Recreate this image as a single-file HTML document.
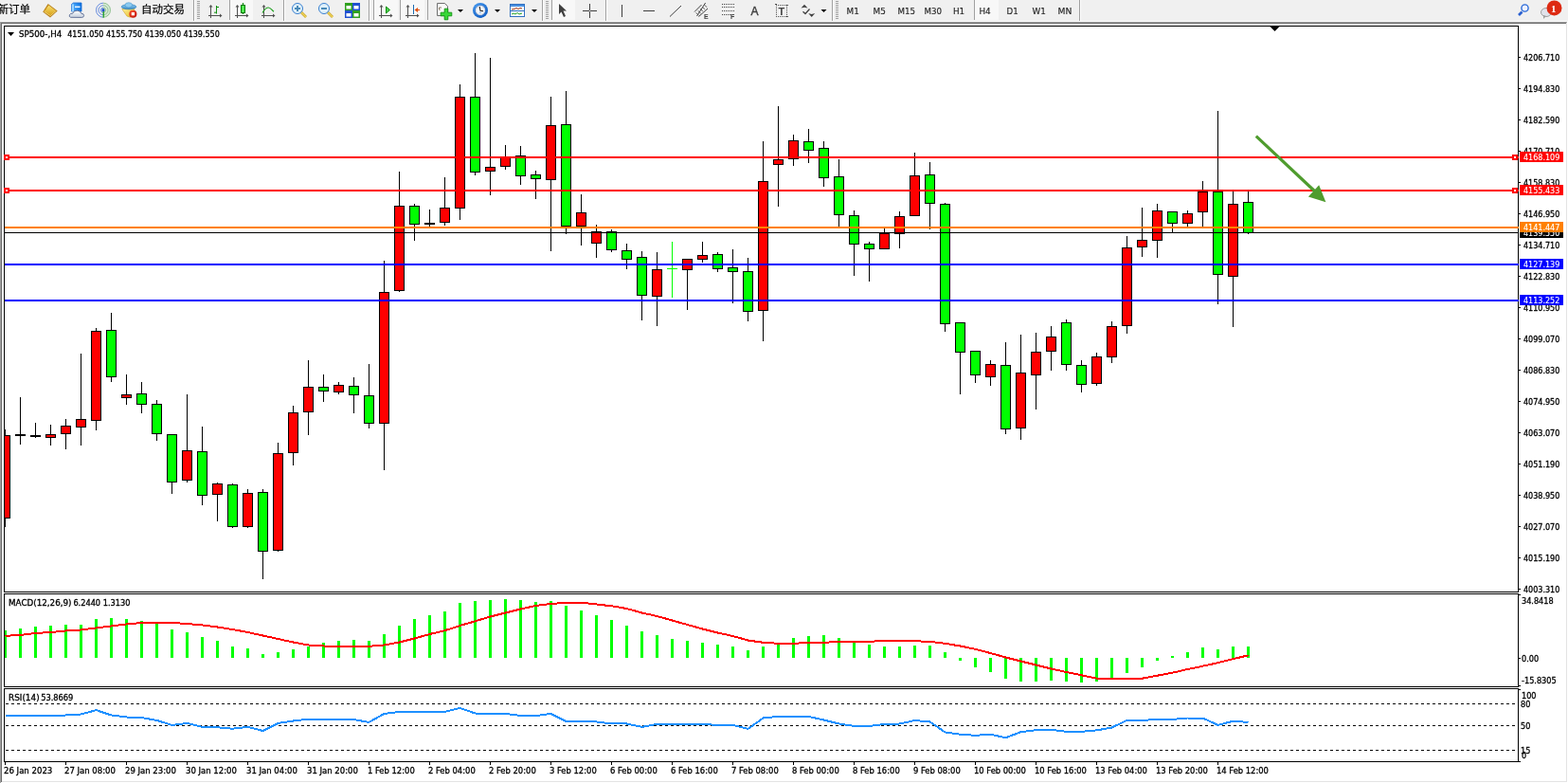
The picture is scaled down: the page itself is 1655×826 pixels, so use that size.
<!DOCTYPE html>
<html><head><meta charset="utf-8"><title>SP500-,H4</title>
<style>
html,body{margin:0;padding:0;width:1655px;height:826px;overflow:hidden;background:#f0f0f0;}
svg{position:absolute;left:0;top:0;display:block;}
.t{font-family:"DejaVu Sans Condensed","DejaVu Sans",sans-serif;font-size:9.5px;fill:#000;white-space:pre;stroke:#000;stroke-width:0.3px;}
.cjk{font-family:"Liberation Sans","Noto Sans CJK SC","WenQuanYi Zen Hei",sans-serif;font-size:11.5px;fill:#000;stroke:#000;stroke-width:0.2px;}
.tf{font-family:"DejaVu Sans Condensed","DejaVu Sans",sans-serif;font-size:9.5px;fill:#262626;stroke:#262626;stroke-width:0.15px;}
.tbs{font-family:"Liberation Sans",sans-serif;font-size:7px;font-weight:bold;fill:#404040;}
.tbA{font-family:"Liberation Sans",sans-serif;font-size:12px;fill:#404040;stroke:#404040;stroke-width:0.4px;}
.tbT{font-family:"Liberation Sans",sans-serif;font-size:11px;font-weight:bold;fill:#404040;}
.badge{font-family:"Liberation Serif",serif;font-size:11px;font-weight:bold;fill:#fff;}
</style></head>
<body>
<svg width="1655" height="826" viewBox="0 0 1655 826">
<rect x="0" y="0" width="1655" height="22" fill="#f0f0f0"/>
<rect x="0" y="22" width="1655" height="1" fill="#fafafa"/>
<text x="-2.5" y="14" class="cjk">新订单</text>
<defs><linearGradient id="gBook" x1="0" y1="0" x2="0" y2="1"><stop offset="0" stop-color="#f8e070"/><stop offset="1" stop-color="#d8a018"/></linearGradient><linearGradient id="gBox" x1="0" y1="0" x2="1" y2="0"><stop offset="0" stop-color="#50b0ff"/><stop offset="1" stop-color="#0a70e0"/></linearGradient><linearGradient id="gCloud" x1="0" y1="0" x2="0" y2="1"><stop offset="0" stop-color="#ffffff"/><stop offset="1" stop-color="#c4cedc"/></linearGradient><linearGradient id="gHat" x1="0" y1="0" x2="0" y2="1"><stop offset="0" stop-color="#8ccaf0"/><stop offset="1" stop-color="#3a8cc8"/></linearGradient><linearGradient id="gCup" x1="0" y1="0" x2="1" y2="1"><stop offset="0" stop-color="#fff4a0"/><stop offset="1" stop-color="#e8b820"/></linearGradient><radialGradient id="gStop" cx="0.4" cy="0.35" r="0.7"><stop offset="0" stop-color="#ff5a3a"/><stop offset="1" stop-color="#c01000"/></radialGradient><radialGradient id="gClock" cx="0.4" cy="0.35" r="0.7"><stop offset="0" stop-color="#5ab0ff"/><stop offset="1" stop-color="#0a58c0"/></radialGradient><radialGradient id="gBadge" cx="0.45" cy="0.3" r="0.75"><stop offset="0" stop-color="#f05a3a"/><stop offset="1" stop-color="#d01a08"/></radialGradient></defs>
<polygon points="45.2,12.4 50.7,4.1 60.7,11.6 53,18.6" fill="#b8801c"/>
<polygon points="46.6,12 51.2,5.4 59,11.2 53.2,16.4" fill="url(#gBook)"/>
<polyline points="46.6,12.2 53.2,16.6 59.2,11.4" fill="none" stroke="#f4d878" stroke-width="0.8"/>
<path d="M51.2,5.4 Q49,7.5 47.5,11" fill="none" stroke="#c89020" stroke-width="0.8"/>
<path d="M75.5,4.5 L77.5,3 H86 V12 H75.5 Z" fill="url(#gBox)" stroke="#1a6ad0" stroke-width="0.8"/>
<rect x="75.8" y="4.5" width="2.2" height="7.5" fill="#9ad4ff"/>
<rect x="79" y="6.5" width="5.5" height="1.6" fill="#e8f4ff"/>
<path d="M74.5,18.3 Q72.6,17.8 73.4,15.6 Q74.5,13.8 76.6,14.3 Q77.5,11 81.5,11.2 Q85.5,11.5 85.8,14.3 Q88.6,14.2 88.6,16.4 Q88.4,18.4 86.4,18.4 Z" fill="url(#gCloud)" stroke="#5a6a92" stroke-width="0.9"/>
<path d="M109,2.8 A7.9,7.9 0 0 1 109,18.6 Z" fill="#cfe8cf" opacity="0.75"/>
<path d="M109,3.20 A7.5,7.5 0 0 0 109,18.20" fill="none" stroke="#3a6ad8" stroke-width="0.9" opacity="0.85"/>
<path d="M109,3.20 A7.5,7.5 0 0 1 109,18.20" fill="none" stroke="#5aa05a" stroke-width="0.9" opacity="0.6"/>
<path d="M109,5.70 A5.0,5.0 0 0 0 109,15.70" fill="none" stroke="#3a6ad8" stroke-width="0.9" opacity="0.85"/>
<path d="M109,5.70 A5.0,5.0 0 0 1 109,15.70" fill="none" stroke="#5aa05a" stroke-width="0.9" opacity="0.6"/>
<path d="M109,8.10 A2.6,2.6 0 0 0 109,13.30" fill="none" stroke="#3a6ad8" stroke-width="0.9" opacity="0.85"/>
<path d="M109,8.10 A2.6,2.6 0 0 1 109,13.30" fill="none" stroke="#5aa05a" stroke-width="0.9" opacity="0.6"/>
<rect x="108.6" y="11" width="1.3" height="7.6" fill="#20a020"/>
<circle cx="109" cy="10.7" r="1.6" fill="#1f50c8"/>
<polygon points="128.8,9.5 141.8,9 141.5,14 137.5,18.3 134,17" fill="url(#gCup)" stroke="#d0a020" stroke-width="0.6"/>
<ellipse cx="136" cy="7.2" rx="7.8" ry="2.6" fill="url(#gHat)" stroke="#2a7ab8" stroke-width="0.6"/>
<ellipse cx="135.8" cy="5.3" rx="3.8" ry="2.6" fill="#8ccaf0" stroke="#3a8cc8" stroke-width="0.5"/>
<circle cx="140.4" cy="14.7" r="4" fill="url(#gStop)"/>
<rect x="138.8" y="13.1" width="3.2" height="3.2" fill="#fff"/>
<text x="149" y="14" class="cjk">自动交易</text>
<rect x="204" y="0" width="1" height="22" fill="#a0a0a0"/>
<rect x="205" y="0" width="1" height="22" fill="#ffffff"/>
<rect x="208" y="1" width="3" height="1" fill="#a0a0a0"/>
<rect x="208" y="3" width="3" height="1" fill="#a0a0a0"/>
<rect x="208" y="5" width="3" height="1" fill="#a0a0a0"/>
<rect x="208" y="7" width="3" height="1" fill="#a0a0a0"/>
<rect x="208" y="9" width="3" height="1" fill="#a0a0a0"/>
<rect x="208" y="11" width="3" height="1" fill="#a0a0a0"/>
<rect x="208" y="13" width="3" height="1" fill="#a0a0a0"/>
<rect x="208" y="15" width="3" height="1" fill="#a0a0a0"/>
<rect x="208" y="17" width="3" height="1" fill="#a0a0a0"/>
<rect x="208" y="19" width="3" height="1" fill="#a0a0a0"/>
<rect x="222" y="6" width="1" height="13" fill="#505050"/>
<rect x="220" y="16" width="14" height="1" fill="#505050"/>
<polygon points="220.5,7.5 222.5,5 224.5,7.5" fill="#505050"/>
<polygon points="232,14.5 234.5,16.5 232,18.5" fill="#505050"/>
<path d="M228.5,6 V14.5 M228.5,7.5 H231 M228.5,13.2 H226" stroke="#109010" stroke-width="1" fill="none"/>
<rect x="242" y="0" width="1" height="21" fill="#a0a0a0"/>
<rect x="243" y="0" width="24" height="21" fill="#f8f8f8"/>
<rect x="250" y="6" width="1" height="13" fill="#505050"/>
<rect x="248" y="16" width="14" height="1" fill="#505050"/>
<polygon points="248.5,7.5 250.5,5 252.5,7.5" fill="#505050"/>
<polygon points="260,14.5 262.5,16.5 260,18.5" fill="#505050"/>
<rect x="256" y="3" width="1" height="12" fill="#008000"/>
<rect x="254.5" y="5.5" width="4" height="8" fill="#50e850" stroke="#007a00" stroke-width="1"/>
<rect x="278" y="6" width="1" height="13" fill="#505050"/>
<rect x="276" y="16" width="14" height="1" fill="#505050"/>
<polygon points="276.5,7.5 278.5,5 280.5,7.5" fill="#505050"/>
<polygon points="288,14.5 290.5,16.5 288,18.5" fill="#505050"/>
<path d="M277,13.5 C279,10 281.5,8 283.4,8 C285.5,8 287,10.8 289,12.3" stroke="#20a020" stroke-width="1.2" fill="none"/>
<rect x="299" y="0" width="1" height="22" fill="#a0a0a0"/>
<rect x="300" y="0" width="1" height="22" fill="#ffffff"/>
<line x1="317" y1="12" x2="323" y2="18" stroke="#c8a020" stroke-width="2.6"/>
<line x1="317" y1="12" x2="323" y2="18" stroke="#f0d860" stroke-width="1.2"/>
<circle cx="314" cy="9" r="5.5" fill="#dff0fa" stroke="#3a80d0" stroke-width="1"/>
<rect x="311" y="8" width="6" height="2" fill="#4a8ab8"/>
<rect x="313" y="6" width="2" height="6" fill="#4a8ab8"/>
<line x1="345" y1="12" x2="351" y2="18" stroke="#c8a020" stroke-width="2.6"/>
<line x1="345" y1="12" x2="351" y2="18" stroke="#f0d860" stroke-width="1.2"/>
<circle cx="342" cy="9" r="5.5" fill="#dff0fa" stroke="#3a80d0" stroke-width="1"/>
<rect x="339" y="8" width="6" height="2" fill="#4a8ab8"/>
<rect x="364" y="3" width="8" height="8" fill="#30a020"/>
<rect x="365.5" y="6" width="5" height="3.5" fill="#fff"/>
<rect x="372" y="3" width="8" height="8" fill="#2050d0"/>
<rect x="373.5" y="6" width="5" height="3.5" fill="#fff"/>
<rect x="364" y="11" width="8" height="8" fill="#2050d0"/>
<rect x="365.5" y="14" width="5" height="3.5" fill="#fff"/>
<rect x="372" y="11" width="8" height="8" fill="#30a020"/>
<rect x="373.5" y="14" width="5" height="3.5" fill="#fff"/>
<rect x="389" y="0" width="1" height="22" fill="#a0a0a0"/>
<rect x="390" y="0" width="1" height="22" fill="#ffffff"/>
<rect x="394" y="0" width="1" height="21" fill="#a0a0a0"/>
<rect x="395" y="0" width="25" height="21" fill="#f8f8f8"/>
<rect x="402" y="6" width="1" height="13" fill="#505050"/>
<rect x="400" y="16" width="14" height="1" fill="#505050"/>
<polygon points="400.5,7.5 402.5,5 404.5,7.5" fill="#505050"/>
<polygon points="412,14.5 414.5,16.5 412,18.5" fill="#505050"/>
<polygon points="407.5,7 411.5,10.5 407.5,14" fill="#50d050" stroke="#109010" stroke-width="1"/>
<rect x="422" y="0" width="1" height="21" fill="#a0a0a0"/>
<rect x="423" y="0" width="25" height="21" fill="#f8f8f8"/>
<rect x="430" y="6" width="1" height="13" fill="#505050"/>
<rect x="428" y="16" width="14" height="1" fill="#505050"/>
<polygon points="428.5,7.5 430.5,5 432.5,7.5" fill="#505050"/>
<polygon points="440,14.5 442.5,16.5 440,18.5" fill="#505050"/>
<rect x="436" y="5" width="1" height="10" fill="#1a6ab0"/>
<polygon points="437.5,10.5 441,8 441,13" fill="#e05010"/>
<rect x="440" y="10" width="3" height="1" fill="#e05010"/>
<rect x="451" y="0" width="1" height="21" fill="#a0a0a0"/>
<path d="M461.5,3.5 H469.5 L472.5,6.5 V16.5 H461.5 Z" fill="#fafafa" stroke="#707070" stroke-width="1"/>
<path d="M463.5,8 Q463,10.5 464.5,11 M463.5,8 H466" stroke="#6a5a40" stroke-width="0.8" fill="none"/>
<path d="M469.2,9.2 H472.8 V13.2 H476.8 V16.8 H472.8 V20.8 H469.2 V16.8 H465.2 V13.2 H469.2 Z" fill="#38d838" stroke="#0c900c" stroke-width="0.9"/>
<polygon points="483,10 489,10 486,13" fill="#000"/>
<circle cx="507" cy="10.9" r="8" fill="url(#gClock)"/>
<circle cx="507" cy="10.9" r="5.4" fill="#f6f8fc" stroke="#0a4aa8" stroke-width="0.5"/>
<circle cx="511.30" cy="10.90" r="0.35" fill="#909090"/>
<circle cx="510.72" cy="13.05" r="0.35" fill="#909090"/>
<circle cx="509.15" cy="14.62" r="0.35" fill="#909090"/>
<circle cx="507.00" cy="15.20" r="0.35" fill="#909090"/>
<circle cx="504.85" cy="14.62" r="0.35" fill="#909090"/>
<circle cx="503.28" cy="13.05" r="0.35" fill="#909090"/>
<circle cx="502.70" cy="10.90" r="0.35" fill="#909090"/>
<circle cx="503.28" cy="8.75" r="0.35" fill="#909090"/>
<circle cx="504.85" cy="7.18" r="0.35" fill="#909090"/>
<circle cx="507.00" cy="6.60" r="0.35" fill="#909090"/>
<circle cx="509.15" cy="7.18" r="0.35" fill="#909090"/>
<circle cx="510.72" cy="8.75" r="0.35" fill="#909090"/>
<path d="M506.2,7 L507,11.2 L510,11.8" stroke="#202020" stroke-width="1.1" fill="none"/>
<rect x="505.8" y="12.8" width="2.4" height="0.8" fill="#6aa0e0"/>
<polygon points="522,10 528,10 525,13" fill="#000"/>
<rect x="538.5" y="4.5" width="15" height="13" fill="#ffffff" stroke="#3070c0" stroke-width="1"/>
<rect x="539" y="5" width="14" height="2" fill="#4a90e0"/>
<rect x="539" y="11" width="14" height="1" fill="#3070c0"/>
<polyline points="540,10 543,9.5 545,8.5 547,9.5 549,8.5 551,9" stroke="#a03010" stroke-width="1" fill="none"/>
<polyline points="540,15 542,14 544,15 546,13.5 548,15 551,14" stroke="#20a020" stroke-width="1" fill="none"/>
<polygon points="561,10 567,10 564,13" fill="#000"/>
<rect x="572" y="0" width="1" height="22" fill="#a0a0a0"/>
<rect x="573" y="0" width="1" height="22" fill="#ffffff"/>
<rect x="576" y="1" width="3" height="1" fill="#a0a0a0"/>
<rect x="576" y="3" width="3" height="1" fill="#a0a0a0"/>
<rect x="576" y="5" width="3" height="1" fill="#a0a0a0"/>
<rect x="576" y="7" width="3" height="1" fill="#a0a0a0"/>
<rect x="576" y="9" width="3" height="1" fill="#a0a0a0"/>
<rect x="576" y="11" width="3" height="1" fill="#a0a0a0"/>
<rect x="576" y="13" width="3" height="1" fill="#a0a0a0"/>
<rect x="576" y="15" width="3" height="1" fill="#a0a0a0"/>
<rect x="576" y="17" width="3" height="1" fill="#a0a0a0"/>
<rect x="576" y="19" width="3" height="1" fill="#a0a0a0"/>
<rect x="582" y="0" width="1" height="21" fill="#a0a0a0"/>
<rect x="583" y="0" width="24" height="21" fill="#f8f8f8"/>
<polygon points="590,4 590,15 592.5,12.5 595,18 597,17 594.5,11.5 598,11.5" fill="#404040"/>
<rect x="622" y="4" width="1" height="15" fill="#404040"/>
<rect x="615" y="11" width="15" height="1" fill="#404040"/>
<rect x="622" y="11" width="1" height="1" fill="#f0f0f0"/>
<rect x="639" y="0" width="1" height="22" fill="#a0a0a0"/>
<rect x="640" y="0" width="1" height="22" fill="#ffffff"/>
<rect x="656" y="5" width="1" height="13" fill="#404040"/>
<rect x="679" y="11" width="12" height="1" fill="#404040"/>
<line x1="707" y1="17.5" x2="719" y2="6" stroke="#404040" stroke-width="1"/>
<line x1="733" y1="12.5" x2="740.5" y2="5" stroke="#404040" stroke-width="1"/>
<line x1="737.5" y1="17.5" x2="747" y2="9" stroke="#404040" stroke-width="1"/>
<line x1="735.5" y1="17" x2="744.6" y2="3" stroke="#404040" stroke-width="1"/>
<line x1="734.5" y1="13.5" x2="737.5" y2="16.1" stroke="#404040" stroke-width="0.8"/>
<line x1="736.7" y1="11.4" x2="739.7" y2="14.0" stroke="#404040" stroke-width="0.8"/>
<line x1="738.9" y1="9.3" x2="741.9" y2="11.9" stroke="#404040" stroke-width="0.8"/>
<line x1="741.1" y1="7.2" x2="744.1" y2="9.8" stroke="#404040" stroke-width="0.8"/>
<line x1="743.3" y1="5.1" x2="746.3" y2="7.7" stroke="#404040" stroke-width="0.8"/>
<text x="743" y="20" class="tbs">E</text>
<line x1="762" y1="4.5" x2="775" y2="4.5" stroke="#404040" stroke-width="1" stroke-dasharray="1 1"/>
<line x1="762" y1="7.5" x2="775" y2="7.5" stroke="#404040" stroke-width="1" stroke-dasharray="1 1"/>
<line x1="762" y1="11.5" x2="775" y2="11.5" stroke="#404040" stroke-width="1" stroke-dasharray="1 1"/>
<line x1="762" y1="15.5" x2="775" y2="15.5" stroke="#404040" stroke-width="1" stroke-dasharray="1 1"/>
<text x="771" y="20" class="tbs">F</text>
<text x="792.5" y="16" class="tbA">A</text>
<rect x="819" y="5" width="1" height="1" fill="#505050"/>
<rect x="819" y="17" width="1" height="1" fill="#505050"/>
<rect x="821" y="5" width="1" height="1" fill="#505050"/>
<rect x="821" y="17" width="1" height="1" fill="#505050"/>
<rect x="823" y="5" width="1" height="1" fill="#505050"/>
<rect x="823" y="17" width="1" height="1" fill="#505050"/>
<rect x="825" y="5" width="1" height="1" fill="#505050"/>
<rect x="825" y="17" width="1" height="1" fill="#505050"/>
<rect x="827" y="5" width="1" height="1" fill="#505050"/>
<rect x="827" y="17" width="1" height="1" fill="#505050"/>
<rect x="829" y="5" width="1" height="1" fill="#505050"/>
<rect x="829" y="17" width="1" height="1" fill="#505050"/>
<rect x="831" y="5" width="1" height="1" fill="#505050"/>
<rect x="831" y="17" width="1" height="1" fill="#505050"/>
<rect x="819" y="5" width="1" height="1" fill="#505050"/>
<rect x="830" y="5" width="1" height="1" fill="#505050"/>
<rect x="819" y="7" width="1" height="1" fill="#505050"/>
<rect x="830" y="7" width="1" height="1" fill="#505050"/>
<rect x="819" y="9" width="1" height="1" fill="#505050"/>
<rect x="830" y="9" width="1" height="1" fill="#505050"/>
<rect x="819" y="11" width="1" height="1" fill="#505050"/>
<rect x="830" y="11" width="1" height="1" fill="#505050"/>
<rect x="819" y="13" width="1" height="1" fill="#505050"/>
<rect x="830" y="13" width="1" height="1" fill="#505050"/>
<rect x="819" y="15" width="1" height="1" fill="#505050"/>
<rect x="830" y="15" width="1" height="1" fill="#505050"/>
<rect x="819" y="17" width="1" height="1" fill="#505050"/>
<rect x="830" y="17" width="1" height="1" fill="#505050"/>
<rect x="818" y="4" width="2" height="1" fill="#505050"/>
<text x="821.5" y="15.5" class="tbT">T</text>
<polygon points="845.5,8.6 849,4.8 852.5,8.6 849,7.8" fill="#404040"/>
<polyline points="847.5,12.2 850,14.5 854.5,9.5" stroke="#404040" stroke-width="1.3" fill="none"/>
<polygon points="853.2,14 856.7,15 860.2,14 856.7,18" fill="#404040"/>
<polygon points="866.5,10 872.5,10 869.5,13" fill="#000"/>
<rect x="878" y="0" width="1" height="22" fill="#a0a0a0"/>
<rect x="879" y="0" width="1" height="22" fill="#ffffff"/>
<rect x="882" y="1" width="3" height="1" fill="#a0a0a0"/>
<rect x="882" y="3" width="3" height="1" fill="#a0a0a0"/>
<rect x="882" y="5" width="3" height="1" fill="#a0a0a0"/>
<rect x="882" y="7" width="3" height="1" fill="#a0a0a0"/>
<rect x="882" y="9" width="3" height="1" fill="#a0a0a0"/>
<rect x="882" y="11" width="3" height="1" fill="#a0a0a0"/>
<rect x="882" y="13" width="3" height="1" fill="#a0a0a0"/>
<rect x="882" y="15" width="3" height="1" fill="#a0a0a0"/>
<rect x="882" y="17" width="3" height="1" fill="#a0a0a0"/>
<rect x="882" y="19" width="3" height="1" fill="#a0a0a0"/>
<rect x="1028" y="0" width="1" height="21" fill="#a0a0a0"/>
<rect x="1029" y="0" width="25" height="21" fill="#f8f8f8"/>
<text x="893.5" y="15" class="tf" textLength="13.27" lengthAdjust="spacingAndGlyphs">M1</text>
<text x="921.5" y="15" class="tf" textLength="13.27" lengthAdjust="spacingAndGlyphs">M5</text>
<text x="947.5" y="15" class="tf" textLength="18.58" lengthAdjust="spacingAndGlyphs">M15</text>
<text x="975.5" y="15" class="tf" textLength="18.58" lengthAdjust="spacingAndGlyphs">M30</text>
<text x="1006" y="15" class="tf" textLength="12.21" lengthAdjust="spacingAndGlyphs">H1</text>
<text x="1033.5" y="15" class="tf" textLength="12.21" lengthAdjust="spacingAndGlyphs">H4</text>
<text x="1062.5" y="15" class="tf" textLength="12.21" lengthAdjust="spacingAndGlyphs">D1</text>
<text x="1089.5" y="15" class="tf" textLength="14.32" lengthAdjust="spacingAndGlyphs">W1</text>
<text x="1116.5" y="15" class="tf" textLength="14.85" lengthAdjust="spacingAndGlyphs">MN</text>
<rect x="1139" y="0" width="1" height="22" fill="#a0a0a0"/>
<rect x="1140" y="0" width="1" height="22" fill="#ffffff"/>
<line x1="1603" y1="16" x2="1606.5" y2="12.5" stroke="#2a60d0" stroke-width="2.6"/>
<circle cx="1609.5" cy="8.5" r="3.6" fill="#eef2ff" stroke="#2a6ad8" stroke-width="1.4"/>
<ellipse cx="1632" cy="13" rx="5.5" ry="4.5" fill="#e0e2ea" stroke="#a0a0a0" stroke-width="1"/>
<polygon points="1629,16 1629,20 1632,17" fill="#a0a0a0"/>
<circle cx="1640.5" cy="8.4" r="8" fill="#dd2a12"/>
<text x="1637" y="12.5" class="badge">1</text>
<rect x="0" y="23" width="1655" height="1" fill="#a0a0a0"/>
<rect x="0" y="24" width="1655" height="1" fill="#696969"/>
<rect x="0" y="23" width="1" height="803" fill="#a0a0a0"/>
<rect x="1" y="24" width="1" height="801" fill="#696969"/>
<rect x="2" y="25" width="1651" height="799" fill="#ffffff"/>
<rect x="1653" y="24" width="1" height="801" fill="#e3e3e3"/>
<rect x="2" y="824" width="1652" height="1" fill="#e3e3e3"/>
<rect x="1654" y="23" width="1" height="803" fill="#ffffff"/>
<rect x="1" y="825" width="1654" height="1" fill="#ffffff"/>
<rect x="4" y="27" width="1599" height="1" fill="#000"/>
<rect x="4" y="624" width="1599" height="1" fill="#000"/>
<rect x="4" y="27" width="1" height="598" fill="#000"/>
<rect x="1602" y="27" width="1" height="598" fill="#000"/>
<rect x="4" y="626" width="1599" height="1" fill="#000"/>
<rect x="4" y="724" width="1599" height="1" fill="#000"/>
<rect x="4" y="626" width="1" height="99" fill="#000"/>
<rect x="1602" y="626" width="1" height="99" fill="#000"/>
<rect x="4" y="726" width="1599" height="1" fill="#000"/>
<rect x="4" y="803" width="1599" height="1" fill="#000"/>
<rect x="4" y="726" width="1" height="78" fill="#000"/>
<rect x="1602" y="726" width="1" height="78" fill="#000"/>
<defs><clipPath id="cm"><rect x="5" y="28" width="1597" height="596"/></clipPath><clipPath id="cmacd"><rect x="5" y="627" width="1597" height="97"/></clipPath><clipPath id="crsi"><rect x="5" y="727" width="1597" height="76"/></clipPath></defs>
<g clip-path="url(#cm)" shape-rendering="crispEdges">
<rect x="5" y="453" width="1" height="103" fill="#000"/>
<rect x="0" y="459" width="11" height="88" fill="#000"/>
<rect x="1" y="460" width="9" height="86" fill="#ff0000"/>
<rect x="21" y="419" width="1" height="50" fill="#000"/>
<rect x="16" y="458" width="11" height="2" fill="#000"/>
<rect x="37" y="446" width="1" height="16" fill="#000"/>
<rect x="32" y="459" width="11" height="2" fill="#000"/>
<rect x="53" y="448" width="1" height="22" fill="#000"/>
<rect x="48" y="458" width="11" height="4" fill="#000"/>
<rect x="49" y="459" width="9" height="2" fill="#ff0000"/>
<rect x="69" y="442" width="1" height="32" fill="#000"/>
<rect x="64" y="449" width="11" height="9" fill="#000"/>
<rect x="65" y="450" width="9" height="7" fill="#ff0000"/>
<rect x="85" y="373" width="1" height="97" fill="#000"/>
<rect x="80" y="442" width="11" height="9" fill="#000"/>
<rect x="81" y="443" width="9" height="7" fill="#ff0000"/>
<rect x="101" y="346" width="1" height="108" fill="#000"/>
<rect x="96" y="349" width="11" height="95" fill="#000"/>
<rect x="97" y="350" width="9" height="93" fill="#ff0000"/>
<rect x="117" y="330" width="1" height="73" fill="#000"/>
<rect x="112" y="348" width="11" height="50" fill="#000"/>
<rect x="113" y="349" width="9" height="48" fill="#00ff00"/>
<rect x="133" y="395" width="1" height="32" fill="#000"/>
<rect x="128" y="416" width="11" height="4" fill="#000"/>
<rect x="129" y="417" width="9" height="2" fill="#ff0000"/>
<rect x="149" y="403" width="1" height="33" fill="#000"/>
<rect x="144" y="415" width="11" height="12" fill="#000"/>
<rect x="145" y="416" width="9" height="10" fill="#00ff00"/>
<rect x="165" y="422" width="1" height="43" fill="#000"/>
<rect x="160" y="426" width="11" height="32" fill="#000"/>
<rect x="161" y="427" width="9" height="30" fill="#00ff00"/>
<rect x="181" y="458" width="1" height="63" fill="#000"/>
<rect x="176" y="458" width="11" height="51" fill="#000"/>
<rect x="177" y="459" width="9" height="49" fill="#00ff00"/>
<rect x="197" y="416" width="1" height="93" fill="#000"/>
<rect x="192" y="475" width="11" height="32" fill="#000"/>
<rect x="193" y="476" width="9" height="30" fill="#ff0000"/>
<rect x="213" y="450" width="1" height="83" fill="#000"/>
<rect x="208" y="476" width="11" height="47" fill="#000"/>
<rect x="209" y="477" width="9" height="45" fill="#00ff00"/>
<rect x="229" y="509" width="1" height="41" fill="#000"/>
<rect x="224" y="510" width="11" height="12" fill="#000"/>
<rect x="225" y="511" width="9" height="10" fill="#ff0000"/>
<rect x="245" y="510" width="1" height="47" fill="#000"/>
<rect x="240" y="511" width="11" height="45" fill="#000"/>
<rect x="241" y="512" width="9" height="43" fill="#00ff00"/>
<rect x="261" y="516" width="1" height="41" fill="#000"/>
<rect x="256" y="520" width="11" height="36" fill="#000"/>
<rect x="257" y="521" width="9" height="34" fill="#ff0000"/>
<rect x="277" y="516" width="1" height="95" fill="#000"/>
<rect x="272" y="519" width="11" height="63" fill="#000"/>
<rect x="273" y="520" width="9" height="61" fill="#00ff00"/>
<rect x="293" y="467" width="1" height="115" fill="#000"/>
<rect x="288" y="478" width="11" height="103" fill="#000"/>
<rect x="289" y="479" width="9" height="101" fill="#ff0000"/>
<rect x="309" y="428" width="1" height="63" fill="#000"/>
<rect x="304" y="435" width="11" height="43" fill="#000"/>
<rect x="305" y="436" width="9" height="41" fill="#ff0000"/>
<rect x="325" y="380" width="1" height="79" fill="#000"/>
<rect x="320" y="408" width="11" height="27" fill="#000"/>
<rect x="321" y="409" width="9" height="25" fill="#ff0000"/>
<rect x="341" y="395" width="1" height="29" fill="#000"/>
<rect x="336" y="408" width="11" height="5" fill="#000"/>
<rect x="337" y="409" width="9" height="3" fill="#00ff00"/>
<rect x="357" y="403" width="1" height="13" fill="#000"/>
<rect x="352" y="406" width="11" height="8" fill="#000"/>
<rect x="353" y="407" width="9" height="6" fill="#ff0000"/>
<rect x="373" y="398" width="1" height="38" fill="#000"/>
<rect x="368" y="407" width="11" height="10" fill="#000"/>
<rect x="369" y="408" width="9" height="8" fill="#00ff00"/>
<rect x="389" y="384" width="1" height="68" fill="#000"/>
<rect x="384" y="417" width="11" height="30" fill="#000"/>
<rect x="385" y="418" width="9" height="28" fill="#00ff00"/>
<rect x="405" y="275" width="1" height="221" fill="#000"/>
<rect x="400" y="308" width="11" height="139" fill="#000"/>
<rect x="401" y="309" width="9" height="137" fill="#ff0000"/>
<rect x="421" y="181" width="1" height="127" fill="#000"/>
<rect x="416" y="217" width="11" height="90" fill="#000"/>
<rect x="417" y="218" width="9" height="88" fill="#ff0000"/>
<rect x="437" y="215" width="1" height="39" fill="#000"/>
<rect x="432" y="217" width="11" height="20" fill="#000"/>
<rect x="433" y="218" width="9" height="18" fill="#00ff00"/>
<rect x="453" y="221" width="1" height="18" fill="#000"/>
<rect x="448" y="235" width="11" height="2" fill="#000"/>
<rect x="469" y="187" width="1" height="51" fill="#000"/>
<rect x="464" y="219" width="11" height="16" fill="#000"/>
<rect x="465" y="220" width="9" height="14" fill="#ff0000"/>
<rect x="485" y="89" width="1" height="143" fill="#000"/>
<rect x="480" y="102" width="11" height="118" fill="#000"/>
<rect x="481" y="103" width="9" height="116" fill="#ff0000"/>
<rect x="501" y="56" width="1" height="129" fill="#000"/>
<rect x="496" y="102" width="11" height="80" fill="#000"/>
<rect x="497" y="103" width="9" height="78" fill="#00ff00"/>
<rect x="517" y="61" width="1" height="145" fill="#000"/>
<rect x="512" y="176" width="11" height="5" fill="#000"/>
<rect x="513" y="177" width="9" height="3" fill="#ff0000"/>
<rect x="533" y="153" width="1" height="26" fill="#000"/>
<rect x="528" y="166" width="11" height="10" fill="#000"/>
<rect x="529" y="167" width="9" height="8" fill="#ff0000"/>
<rect x="549" y="154" width="1" height="41" fill="#000"/>
<rect x="544" y="164" width="11" height="22" fill="#000"/>
<rect x="545" y="165" width="9" height="20" fill="#00ff00"/>
<rect x="565" y="180" width="1" height="30" fill="#000"/>
<rect x="560" y="184" width="11" height="5" fill="#000"/>
<rect x="561" y="185" width="9" height="3" fill="#00ff00"/>
<rect x="581" y="102" width="1" height="163" fill="#000"/>
<rect x="576" y="132" width="11" height="58" fill="#000"/>
<rect x="577" y="133" width="9" height="56" fill="#ff0000"/>
<rect x="597" y="96" width="1" height="151" fill="#000"/>
<rect x="592" y="131" width="11" height="108" fill="#000"/>
<rect x="593" y="132" width="9" height="106" fill="#00ff00"/>
<rect x="613" y="205" width="1" height="54" fill="#000"/>
<rect x="608" y="224" width="11" height="15" fill="#000"/>
<rect x="609" y="225" width="9" height="13" fill="#ff0000"/>
<rect x="629" y="237" width="1" height="35" fill="#000"/>
<rect x="624" y="244" width="11" height="13" fill="#000"/>
<rect x="625" y="245" width="9" height="11" fill="#ff0000"/>
<rect x="645" y="242" width="1" height="24" fill="#000"/>
<rect x="640" y="244" width="11" height="20" fill="#000"/>
<rect x="641" y="245" width="9" height="18" fill="#00ff00"/>
<rect x="661" y="257" width="1" height="27" fill="#000"/>
<rect x="656" y="264" width="11" height="10" fill="#000"/>
<rect x="657" y="265" width="9" height="8" fill="#00ff00"/>
<rect x="677" y="265" width="1" height="73" fill="#000"/>
<rect x="672" y="271" width="11" height="41" fill="#000"/>
<rect x="673" y="272" width="9" height="39" fill="#00ff00"/>
<rect x="693" y="266" width="1" height="78" fill="#000"/>
<rect x="688" y="284" width="11" height="29" fill="#000"/>
<rect x="689" y="285" width="9" height="27" fill="#ff0000"/>
<rect x="709" y="255" width="1" height="59" fill="#00ff00"/>
<rect x="704" y="283" width="11" height="1" fill="#00ff00"/>
<rect x="725" y="273" width="1" height="54" fill="#000"/>
<rect x="720" y="273" width="11" height="12" fill="#000"/>
<rect x="721" y="274" width="9" height="10" fill="#ff0000"/>
<rect x="741" y="255" width="1" height="22" fill="#000"/>
<rect x="736" y="269" width="11" height="5" fill="#000"/>
<rect x="737" y="270" width="9" height="3" fill="#ff0000"/>
<rect x="757" y="266" width="1" height="21" fill="#000"/>
<rect x="752" y="268" width="11" height="16" fill="#000"/>
<rect x="753" y="269" width="9" height="14" fill="#00ff00"/>
<rect x="773" y="263" width="1" height="57" fill="#000"/>
<rect x="768" y="282" width="11" height="5" fill="#000"/>
<rect x="769" y="283" width="9" height="3" fill="#00ff00"/>
<rect x="789" y="272" width="1" height="67" fill="#000"/>
<rect x="784" y="286" width="11" height="43" fill="#000"/>
<rect x="785" y="287" width="9" height="41" fill="#00ff00"/>
<rect x="805" y="149" width="1" height="211" fill="#000"/>
<rect x="800" y="191" width="11" height="137" fill="#000"/>
<rect x="801" y="192" width="9" height="135" fill="#ff0000"/>
<rect x="821" y="112" width="1" height="106" fill="#000"/>
<rect x="816" y="168" width="11" height="6" fill="#000"/>
<rect x="817" y="169" width="9" height="4" fill="#ff0000"/>
<rect x="837" y="142" width="1" height="33" fill="#000"/>
<rect x="832" y="148" width="11" height="20" fill="#000"/>
<rect x="833" y="149" width="9" height="18" fill="#ff0000"/>
<rect x="853" y="136" width="1" height="36" fill="#000"/>
<rect x="848" y="149" width="11" height="10" fill="#000"/>
<rect x="849" y="150" width="9" height="8" fill="#00ff00"/>
<rect x="869" y="149" width="1" height="48" fill="#000"/>
<rect x="864" y="156" width="11" height="32" fill="#000"/>
<rect x="865" y="157" width="9" height="30" fill="#00ff00"/>
<rect x="885" y="168" width="1" height="71" fill="#000"/>
<rect x="880" y="186" width="11" height="41" fill="#000"/>
<rect x="881" y="187" width="9" height="39" fill="#00ff00"/>
<rect x="901" y="222" width="1" height="69" fill="#000"/>
<rect x="896" y="227" width="11" height="31" fill="#000"/>
<rect x="897" y="228" width="9" height="29" fill="#00ff00"/>
<rect x="917" y="255" width="1" height="42" fill="#000"/>
<rect x="912" y="257" width="11" height="6" fill="#000"/>
<rect x="913" y="258" width="9" height="4" fill="#00ff00"/>
<rect x="933" y="241" width="1" height="22" fill="#000"/>
<rect x="928" y="246" width="11" height="17" fill="#000"/>
<rect x="929" y="247" width="9" height="15" fill="#ff0000"/>
<rect x="949" y="223" width="1" height="39" fill="#000"/>
<rect x="944" y="228" width="11" height="19" fill="#000"/>
<rect x="945" y="229" width="9" height="17" fill="#ff0000"/>
<rect x="965" y="161" width="1" height="67" fill="#000"/>
<rect x="960" y="185" width="11" height="43" fill="#000"/>
<rect x="961" y="186" width="9" height="41" fill="#ff0000"/>
<rect x="981" y="171" width="1" height="71" fill="#000"/>
<rect x="976" y="184" width="11" height="31" fill="#000"/>
<rect x="977" y="185" width="9" height="29" fill="#00ff00"/>
<rect x="997" y="214" width="1" height="136" fill="#000"/>
<rect x="992" y="215" width="11" height="127" fill="#000"/>
<rect x="993" y="216" width="9" height="125" fill="#00ff00"/>
<rect x="1013" y="340" width="1" height="76" fill="#000"/>
<rect x="1008" y="340" width="11" height="32" fill="#000"/>
<rect x="1009" y="341" width="9" height="30" fill="#00ff00"/>
<rect x="1029" y="370" width="1" height="34" fill="#000"/>
<rect x="1024" y="370" width="11" height="26" fill="#000"/>
<rect x="1025" y="371" width="9" height="24" fill="#00ff00"/>
<rect x="1045" y="380" width="1" height="27" fill="#000"/>
<rect x="1040" y="384" width="11" height="14" fill="#000"/>
<rect x="1041" y="385" width="9" height="12" fill="#ff0000"/>
<rect x="1061" y="361" width="1" height="97" fill="#000"/>
<rect x="1056" y="385" width="11" height="68" fill="#000"/>
<rect x="1057" y="386" width="9" height="66" fill="#00ff00"/>
<rect x="1077" y="353" width="1" height="111" fill="#000"/>
<rect x="1072" y="393" width="11" height="59" fill="#000"/>
<rect x="1073" y="394" width="9" height="57" fill="#ff0000"/>
<rect x="1093" y="351" width="1" height="81" fill="#000"/>
<rect x="1088" y="371" width="11" height="25" fill="#000"/>
<rect x="1089" y="372" width="9" height="23" fill="#ff0000"/>
<rect x="1109" y="344" width="1" height="47" fill="#000"/>
<rect x="1104" y="355" width="11" height="16" fill="#000"/>
<rect x="1105" y="356" width="9" height="14" fill="#ff0000"/>
<rect x="1125" y="337" width="1" height="54" fill="#000"/>
<rect x="1120" y="340" width="11" height="45" fill="#000"/>
<rect x="1121" y="341" width="9" height="43" fill="#00ff00"/>
<rect x="1141" y="380" width="1" height="34" fill="#000"/>
<rect x="1136" y="385" width="11" height="21" fill="#000"/>
<rect x="1137" y="386" width="9" height="19" fill="#00ff00"/>
<rect x="1157" y="372" width="1" height="35" fill="#000"/>
<rect x="1152" y="376" width="11" height="29" fill="#000"/>
<rect x="1153" y="377" width="9" height="27" fill="#ff0000"/>
<rect x="1173" y="339" width="1" height="44" fill="#000"/>
<rect x="1168" y="344" width="11" height="33" fill="#000"/>
<rect x="1169" y="345" width="9" height="31" fill="#ff0000"/>
<rect x="1189" y="249" width="1" height="103" fill="#000"/>
<rect x="1184" y="261" width="11" height="83" fill="#000"/>
<rect x="1185" y="262" width="9" height="81" fill="#ff0000"/>
<rect x="1205" y="219" width="1" height="52" fill="#000"/>
<rect x="1200" y="253" width="11" height="8" fill="#000"/>
<rect x="1201" y="254" width="9" height="6" fill="#ff0000"/>
<rect x="1221" y="215" width="1" height="57" fill="#000"/>
<rect x="1216" y="222" width="11" height="32" fill="#000"/>
<rect x="1217" y="223" width="9" height="30" fill="#ff0000"/>
<rect x="1237" y="223" width="1" height="22" fill="#000"/>
<rect x="1232" y="223" width="11" height="13" fill="#000"/>
<rect x="1233" y="224" width="9" height="11" fill="#00ff00"/>
<rect x="1253" y="222" width="1" height="17" fill="#000"/>
<rect x="1248" y="225" width="11" height="11" fill="#000"/>
<rect x="1249" y="226" width="9" height="9" fill="#ff0000"/>
<rect x="1269" y="191" width="1" height="48" fill="#000"/>
<rect x="1264" y="202" width="11" height="22" fill="#000"/>
<rect x="1265" y="203" width="9" height="20" fill="#ff0000"/>
<rect x="1285" y="117" width="1" height="204" fill="#000"/>
<rect x="1280" y="202" width="11" height="88" fill="#000"/>
<rect x="1281" y="203" width="9" height="86" fill="#00ff00"/>
<rect x="1301" y="202" width="1" height="143" fill="#000"/>
<rect x="1296" y="215" width="11" height="77" fill="#000"/>
<rect x="1297" y="216" width="9" height="75" fill="#ff0000"/>
<rect x="1317" y="202" width="1" height="45" fill="#000"/>
<rect x="1312" y="213" width="11" height="33" fill="#000"/>
<rect x="1313" y="214" width="9" height="31" fill="#00ff00"/>
</g><g shape-rendering="crispEdges">
<rect x="5" y="165" width="1598" height="2" fill="#ff0000"/>
<rect x="5" y="200" width="1598" height="2" fill="#ff0000"/>
<rect x="5" y="278" width="1598" height="2" fill="#0000ff"/>
<rect x="5" y="316" width="1598" height="2" fill="#0000ff"/>
<rect x="5" y="239" width="1598" height="2" fill="#ff8000"/>
<rect x="5" y="245" width="1597" height="1" fill="#000"/>
</g>
<rect x="4" y="163" width="6" height="6" fill="#ff0000" shape-rendering="crispEdges"/>
<rect x="6" y="165" width="2" height="2" fill="#ffffff" shape-rendering="crispEdges"/>
<rect x="1596" y="163" width="6" height="6" fill="#ff0000" shape-rendering="crispEdges"/>
<rect x="1598" y="165" width="2" height="2" fill="#ffffff" shape-rendering="crispEdges"/>
<rect x="4" y="198" width="6" height="6" fill="#ff0000" shape-rendering="crispEdges"/>
<rect x="6" y="200" width="2" height="2" fill="#ffffff" shape-rendering="crispEdges"/>
<rect x="1596" y="198" width="6" height="6" fill="#ff0000" shape-rendering="crispEdges"/>
<rect x="1598" y="200" width="2" height="2" fill="#ffffff" shape-rendering="crispEdges"/>
<g>
<line x1="1325.8" y1="143.7" x2="1388" y2="202" stroke="#4f9c2e" stroke-width="3.2"/>
<polygon points="1392.2,195.2 1380.9,207.6 1399.4,213.2" fill="#4f9c2e"/>
</g>
<polygon points="1340.5,28 1350.5,28 1345.5,33" fill="#000"/>
<polygon points="8,34 15,34 11.5,38" fill="#000"/>
<text x="20" y="39" class="t" textLength="45.20" lengthAdjust="spacingAndGlyphs">SP500-,H4</text>
<text x="71.2" y="39" class="t" textLength="160.60" lengthAdjust="spacingAndGlyphs">4151.050 4155.750 4139.050 4139.550</text>
<rect x="1603" y="60" width="2" height="1" fill="#000" shape-rendering="crispEdges"/>
<text x="1608" y="64" class="t" textLength="38.29" lengthAdjust="spacingAndGlyphs">4206.710</text>
<rect x="1603" y="93" width="2" height="1" fill="#000" shape-rendering="crispEdges"/>
<text x="1608" y="97" class="t" textLength="38.29" lengthAdjust="spacingAndGlyphs">4194.830</text>
<rect x="1603" y="126" width="2" height="1" fill="#000" shape-rendering="crispEdges"/>
<text x="1608" y="130" class="t" textLength="38.29" lengthAdjust="spacingAndGlyphs">4182.590</text>
<rect x="1603" y="159" width="2" height="1" fill="#000" shape-rendering="crispEdges"/>
<text x="1608" y="163" class="t" textLength="38.29" lengthAdjust="spacingAndGlyphs">4170.710</text>
<rect x="1603" y="192" width="2" height="1" fill="#000" shape-rendering="crispEdges"/>
<text x="1608" y="196" class="t" textLength="38.29" lengthAdjust="spacingAndGlyphs">4158.830</text>
<rect x="1603" y="225" width="2" height="1" fill="#000" shape-rendering="crispEdges"/>
<text x="1608" y="229" class="t" textLength="38.29" lengthAdjust="spacingAndGlyphs">4146.950</text>
<rect x="1603" y="258" width="2" height="1" fill="#000" shape-rendering="crispEdges"/>
<text x="1608" y="262" class="t" textLength="38.29" lengthAdjust="spacingAndGlyphs">4134.710</text>
<rect x="1603" y="291" width="2" height="1" fill="#000" shape-rendering="crispEdges"/>
<text x="1608" y="295" class="t" textLength="38.29" lengthAdjust="spacingAndGlyphs">4122.830</text>
<rect x="1603" y="324" width="2" height="1" fill="#000" shape-rendering="crispEdges"/>
<text x="1608" y="328" class="t" textLength="38.29" lengthAdjust="spacingAndGlyphs">4110.950</text>
<rect x="1603" y="357" width="2" height="1" fill="#000" shape-rendering="crispEdges"/>
<text x="1608" y="361" class="t" textLength="38.29" lengthAdjust="spacingAndGlyphs">4099.070</text>
<rect x="1603" y="390" width="2" height="1" fill="#000" shape-rendering="crispEdges"/>
<text x="1608" y="394" class="t" textLength="38.29" lengthAdjust="spacingAndGlyphs">4086.830</text>
<rect x="1603" y="423" width="2" height="1" fill="#000" shape-rendering="crispEdges"/>
<text x="1608" y="427" class="t" textLength="38.29" lengthAdjust="spacingAndGlyphs">4074.950</text>
<rect x="1603" y="456" width="2" height="1" fill="#000" shape-rendering="crispEdges"/>
<text x="1608" y="460" class="t" textLength="38.29" lengthAdjust="spacingAndGlyphs">4063.070</text>
<rect x="1603" y="489" width="2" height="1" fill="#000" shape-rendering="crispEdges"/>
<text x="1608" y="493" class="t" textLength="38.29" lengthAdjust="spacingAndGlyphs">4051.190</text>
<rect x="1603" y="522" width="2" height="1" fill="#000" shape-rendering="crispEdges"/>
<text x="1608" y="526" class="t" textLength="38.29" lengthAdjust="spacingAndGlyphs">4038.950</text>
<rect x="1603" y="555" width="2" height="1" fill="#000" shape-rendering="crispEdges"/>
<text x="1608" y="559" class="t" textLength="38.29" lengthAdjust="spacingAndGlyphs">4027.070</text>
<rect x="1603" y="588" width="2" height="1" fill="#000" shape-rendering="crispEdges"/>
<text x="1608" y="592" class="t" textLength="38.29" lengthAdjust="spacingAndGlyphs">4015.190</text>
<rect x="1603" y="621" width="2" height="1" fill="#000" shape-rendering="crispEdges"/>
<text x="1608" y="625" class="t" textLength="38.29" lengthAdjust="spacingAndGlyphs">4003.310</text>
<rect x="1604" y="160" width="46" height="11" fill="#ff0000" shape-rendering="crispEdges"/>
<text x="1608" y="169" class="t" style="fill:#fff;stroke:#fff;stroke-width:0.1px" textLength="38.29" lengthAdjust="spacingAndGlyphs">4168.109</text>
<rect x="1604" y="195" width="46" height="11" fill="#ff0000" shape-rendering="crispEdges"/>
<text x="1608" y="204" class="t" style="fill:#fff;stroke:#fff;stroke-width:0.1px" textLength="38.29" lengthAdjust="spacingAndGlyphs">4155.433</text>
<rect x="1604" y="240" width="46" height="11" fill="#000000" shape-rendering="crispEdges"/>
<text x="1608" y="249" class="t" style="fill:#fff;stroke:#fff;stroke-width:0.1px" textLength="38.29" lengthAdjust="spacingAndGlyphs">4139.550</text>
<rect x="1604" y="234" width="46" height="11" fill="#ff8000" shape-rendering="crispEdges"/>
<text x="1608" y="243" class="t" style="fill:#fff;stroke:#fff;stroke-width:0.1px" textLength="38.29" lengthAdjust="spacingAndGlyphs">4141.447</text>
<rect x="1604" y="273" width="46" height="11" fill="#0000ff" shape-rendering="crispEdges"/>
<text x="1608" y="282" class="t" style="fill:#fff;stroke:#fff;stroke-width:0.1px" textLength="38.29" lengthAdjust="spacingAndGlyphs">4127.139</text>
<rect x="1604" y="311" width="46" height="11" fill="#0000ff" shape-rendering="crispEdges"/>
<text x="1608" y="320" class="t" style="fill:#fff;stroke:#fff;stroke-width:0.1px" textLength="38.29" lengthAdjust="spacingAndGlyphs">4113.252</text>
<g clip-path="url(#cmacd)" shape-rendering="crispEdges">
<rect x="4" y="665" width="3" height="29" fill="#00ff00"/>
<rect x="20" y="663" width="3" height="31" fill="#00ff00"/>
<rect x="36" y="661" width="3" height="33" fill="#00ff00"/>
<rect x="52" y="660" width="3" height="34" fill="#00ff00"/>
<rect x="68" y="659" width="3" height="35" fill="#00ff00"/>
<rect x="84" y="659" width="3" height="35" fill="#00ff00"/>
<rect x="100" y="653" width="3" height="41" fill="#00ff00"/>
<rect x="116" y="652" width="3" height="42" fill="#00ff00"/>
<rect x="132" y="653" width="3" height="41" fill="#00ff00"/>
<rect x="148" y="655" width="3" height="39" fill="#00ff00"/>
<rect x="164" y="657" width="3" height="37" fill="#00ff00"/>
<rect x="180" y="664" width="3" height="30" fill="#00ff00"/>
<rect x="196" y="667" width="3" height="27" fill="#00ff00"/>
<rect x="212" y="672" width="3" height="22" fill="#00ff00"/>
<rect x="228" y="676" width="3" height="18" fill="#00ff00"/>
<rect x="244" y="682" width="3" height="12" fill="#00ff00"/>
<rect x="260" y="684" width="3" height="10" fill="#00ff00"/>
<rect x="276" y="690" width="3" height="4" fill="#00ff00"/>
<rect x="292" y="688" width="3" height="6" fill="#00ff00"/>
<rect x="308" y="685" width="3" height="9" fill="#00ff00"/>
<rect x="324" y="682" width="3" height="12" fill="#00ff00"/>
<rect x="340" y="678" width="3" height="16" fill="#00ff00"/>
<rect x="356" y="676" width="3" height="18" fill="#00ff00"/>
<rect x="372" y="675" width="3" height="19" fill="#00ff00"/>
<rect x="388" y="676" width="3" height="18" fill="#00ff00"/>
<rect x="404" y="669" width="3" height="25" fill="#00ff00"/>
<rect x="420" y="660" width="3" height="34" fill="#00ff00"/>
<rect x="436" y="653" width="3" height="41" fill="#00ff00"/>
<rect x="452" y="649" width="3" height="45" fill="#00ff00"/>
<rect x="468" y="645" width="3" height="49" fill="#00ff00"/>
<rect x="484" y="636" width="3" height="58" fill="#00ff00"/>
<rect x="500" y="634" width="3" height="60" fill="#00ff00"/>
<rect x="516" y="633" width="3" height="61" fill="#00ff00"/>
<rect x="532" y="632" width="3" height="62" fill="#00ff00"/>
<rect x="548" y="633" width="3" height="61" fill="#00ff00"/>
<rect x="564" y="635" width="3" height="59" fill="#00ff00"/>
<rect x="580" y="634" width="3" height="60" fill="#00ff00"/>
<rect x="596" y="639" width="3" height="55" fill="#00ff00"/>
<rect x="612" y="644" width="3" height="50" fill="#00ff00"/>
<rect x="628" y="649" width="3" height="45" fill="#00ff00"/>
<rect x="644" y="654" width="3" height="40" fill="#00ff00"/>
<rect x="660" y="660" width="3" height="34" fill="#00ff00"/>
<rect x="676" y="666" width="3" height="28" fill="#00ff00"/>
<rect x="692" y="670" width="3" height="24" fill="#00ff00"/>
<rect x="708" y="674" width="3" height="20" fill="#00ff00"/>
<rect x="724" y="676" width="3" height="18" fill="#00ff00"/>
<rect x="740" y="678" width="3" height="16" fill="#00ff00"/>
<rect x="756" y="680" width="3" height="14" fill="#00ff00"/>
<rect x="772" y="682" width="3" height="12" fill="#00ff00"/>
<rect x="788" y="686" width="3" height="8" fill="#00ff00"/>
<rect x="804" y="682" width="3" height="12" fill="#00ff00"/>
<rect x="820" y="679" width="3" height="15" fill="#00ff00"/>
<rect x="836" y="673" width="3" height="21" fill="#00ff00"/>
<rect x="852" y="671" width="3" height="23" fill="#00ff00"/>
<rect x="868" y="670" width="3" height="24" fill="#00ff00"/>
<rect x="884" y="673" width="3" height="21" fill="#00ff00"/>
<rect x="900" y="678" width="3" height="16" fill="#00ff00"/>
<rect x="916" y="680" width="3" height="14" fill="#00ff00"/>
<rect x="932" y="682" width="3" height="12" fill="#00ff00"/>
<rect x="948" y="682" width="3" height="12" fill="#00ff00"/>
<rect x="964" y="681" width="3" height="13" fill="#00ff00"/>
<rect x="980" y="681" width="3" height="13" fill="#00ff00"/>
<rect x="996" y="688" width="3" height="6" fill="#00ff00"/>
<rect x="1012" y="694" width="3" height="3" fill="#00ff00"/>
<rect x="1028" y="694" width="3" height="10" fill="#00ff00"/>
<rect x="1044" y="694" width="3" height="15" fill="#00ff00"/>
<rect x="1060" y="694" width="3" height="22" fill="#00ff00"/>
<rect x="1076" y="694" width="3" height="25" fill="#00ff00"/>
<rect x="1092" y="694" width="3" height="25" fill="#00ff00"/>
<rect x="1108" y="694" width="3" height="24" fill="#00ff00"/>
<rect x="1124" y="694" width="3" height="25" fill="#00ff00"/>
<rect x="1140" y="694" width="3" height="26" fill="#00ff00"/>
<rect x="1156" y="694" width="3" height="25" fill="#00ff00"/>
<rect x="1172" y="694" width="3" height="21" fill="#00ff00"/>
<rect x="1188" y="694" width="3" height="16" fill="#00ff00"/>
<rect x="1204" y="694" width="3" height="10" fill="#00ff00"/>
<rect x="1220" y="694" width="3" height="3" fill="#00ff00"/>
<rect x="1236" y="692" width="3" height="2" fill="#00ff00"/>
<rect x="1252" y="688" width="3" height="6" fill="#00ff00"/>
<rect x="1268" y="683" width="3" height="11" fill="#00ff00"/>
<rect x="1284" y="685" width="3" height="9" fill="#00ff00"/>
<rect x="1300" y="682" width="3" height="12" fill="#00ff00"/>
<rect x="1316" y="682" width="3" height="12" fill="#00ff00"/>
</g>
<polyline clip-path="url(#cmacd)" points="5.5,670.8 21.5,670 37.5,668 53.5,667 69.5,665.5 85.5,664.5 101.5,662.5 117.5,660.5 133.5,658.5 149.5,657 165.5,657 181.5,657 197.5,658 213.5,659.5 229.5,661.5 245.5,664 261.5,667 277.5,670.5 293.5,674 309.5,677.5 325.5,680.5 341.5,681.5 357.5,681.8 373.5,681.8 389.5,681.8 405.5,680.5 421.5,677.5 437.5,673.5 453.5,669 469.5,665.2 485.5,660 501.5,655.3 517.5,650.5 533.5,646.5 549.5,642.5 565.5,639 581.5,637 597.5,635.7 613.5,635.7 629.5,637.5 645.5,639.3 661.5,642 677.5,646.5 693.5,650 709.5,654.5 725.5,659 741.5,663.5 757.5,667.5 773.5,671 789.5,675.5 805.5,677.8 821.5,678.8 837.5,678.8 853.5,678 869.5,677.8 885.5,677 901.5,676.8 917.5,676.8 933.5,676 949.5,675.8 965.5,676.3 981.5,676.8 997.5,678.8 1013.5,681.5 1029.5,684.8 1045.5,689 1061.5,693.5 1077.5,697.5 1093.5,701.5 1109.5,705.5 1125.5,709 1141.5,712.3 1157.5,715.7 1173.5,715.7 1189.5,715.7 1205.5,715.7 1221.5,712.7 1237.5,709.7 1253.5,706 1269.5,702.7 1285.5,699.2 1301.5,695.2 1317.5,691.3" fill="none" stroke="#ff0000" stroke-width="2" shape-rendering="crispEdges"/>
<text x="9" y="639" class="t" textLength="66.50" lengthAdjust="spacingAndGlyphs">MACD(12,26,9)</text>
<text x="77.4" y="639" class="t" textLength="60.00" lengthAdjust="spacingAndGlyphs">6.2440 1.3130</text>
<text x="1606" y="637" class="t" textLength="33.62" lengthAdjust="spacingAndGlyphs">34.8418</text>
<text x="1606" y="698" class="t" textLength="18.10" lengthAdjust="spacingAndGlyphs">0.00</text>
<text x="1606" y="721" class="t" textLength="36.71" lengthAdjust="spacingAndGlyphs">-15.8305</text>
<rect x="1603" y="627" width="2" height="1" fill="#000" shape-rendering="crispEdges"/>
<rect x="1603" y="694" width="2" height="1" fill="#000" shape-rendering="crispEdges"/>
<rect x="1603" y="723" width="2" height="1" fill="#000" shape-rendering="crispEdges"/>
<g shape-rendering="crispEdges">
<line x1="6" y1="742.5" x2="1602" y2="742.5" stroke="#000" stroke-width="1" stroke-dasharray="3 3"/>
<line x1="6" y1="765.5" x2="1602" y2="765.5" stroke="#000" stroke-width="1" stroke-dasharray="3 3"/>
<line x1="6" y1="791.5" x2="1602" y2="791.5" stroke="#000" stroke-width="1" stroke-dasharray="3 3"/>
</g>
<polyline clip-path="url(#crsi)" points="5.5,755.1 21.5,755.1 37.5,755.1 53.5,755.1 69.5,754.5 85.5,753.5 101.5,749.1 117.5,754.5 133.5,756.5 149.5,757.1 165.5,759.9 181.5,764.9 197.5,762.9 213.5,766.9 229.5,767.3 245.5,768.7 261.5,766.9 277.5,771 293.5,762.9 309.5,760.5 325.5,758.7 341.5,758.7 357.5,758.7 373.5,759.1 389.5,761.9 405.5,752.9 421.5,750.9 437.5,750.9 453.5,750.9 469.5,750.9 485.5,746.9 501.5,752.5 517.5,752.9 533.5,752.9 549.5,754.9 565.5,755.1 581.5,752.9 597.5,761.1 613.5,761.1 629.5,761.5 645.5,763.3 661.5,763.5 677.5,766.9 693.5,763.9 709.5,763.9 725.5,763.9 741.5,763.9 757.5,764.9 773.5,764.9 789.5,768.9 805.5,757.5 821.5,755.9 837.5,755.9 853.5,755.9 869.5,759.5 885.5,763.5 901.5,765.9 917.5,765.9 933.5,763.9 949.5,763.5 965.5,760 981.5,761.5 997.5,772.4 1013.5,774.8 1029.5,775.8 1045.5,774.8 1061.5,778.2 1077.5,772.2 1093.5,770.2 1109.5,769.9 1125.5,771.8 1141.5,771.8 1157.5,770.4 1173.5,767.5 1189.5,759.9 1205.5,759.9 1221.5,758.9 1237.5,758.9 1253.5,757.5 1269.5,757.5 1285.5,764.9 1301.5,760.7 1317.5,761.9" fill="none" stroke="#1e90ff" stroke-width="2" shape-rendering="crispEdges"/>
<text x="9" y="739" class="t" textLength="32.60" lengthAdjust="spacingAndGlyphs">RSI(14)</text>
<text x="43.2" y="739" class="t" textLength="34.20" lengthAdjust="spacingAndGlyphs">53.8669</text>
<text x="1606" y="737" class="t" textLength="15.52" lengthAdjust="spacingAndGlyphs">100</text>
<text x="1605" y="746" class="t" textLength="10.34" lengthAdjust="spacingAndGlyphs">80</text>
<text x="1605" y="769" class="t" textLength="10.34" lengthAdjust="spacingAndGlyphs">50</text>
<text x="1605" y="795" class="t" textLength="10.34" lengthAdjust="spacingAndGlyphs">15</text>
<text x="1606" y="800" class="t" textLength="5.17" lengthAdjust="spacingAndGlyphs">0</text>
<rect x="1603" y="727" width="2" height="1" fill="#000" shape-rendering="crispEdges"/>
<rect x="1603" y="803" width="2" height="1" fill="#000" shape-rendering="crispEdges"/>
<rect x="5" y="804" width="1" height="3" fill="#000" shape-rendering="crispEdges"/>
<text x="4" y="816" class="t" textLength="51.31" lengthAdjust="spacingAndGlyphs">26 Jan 2023</text>
<rect x="69" y="804" width="1" height="3" fill="#000" shape-rendering="crispEdges"/>
<text x="68" y="816" class="t" textLength="53.89" lengthAdjust="spacingAndGlyphs">27 Jan 08:00</text>
<rect x="133" y="804" width="1" height="3" fill="#000" shape-rendering="crispEdges"/>
<text x="132" y="816" class="t" textLength="53.89" lengthAdjust="spacingAndGlyphs">29 Jan 23:00</text>
<rect x="197" y="804" width="1" height="3" fill="#000" shape-rendering="crispEdges"/>
<text x="196" y="816" class="t" textLength="53.89" lengthAdjust="spacingAndGlyphs">30 Jan 12:00</text>
<rect x="261" y="804" width="1" height="3" fill="#000" shape-rendering="crispEdges"/>
<text x="260" y="816" class="t" textLength="53.89" lengthAdjust="spacingAndGlyphs">31 Jan 04:00</text>
<rect x="325" y="804" width="1" height="3" fill="#000" shape-rendering="crispEdges"/>
<text x="324" y="816" class="t" textLength="53.89" lengthAdjust="spacingAndGlyphs">31 Jan 20:00</text>
<rect x="389" y="804" width="1" height="3" fill="#000" shape-rendering="crispEdges"/>
<text x="388" y="816" class="t" textLength="49.74" lengthAdjust="spacingAndGlyphs">1 Feb 12:00</text>
<rect x="453" y="804" width="1" height="3" fill="#000" shape-rendering="crispEdges"/>
<text x="452" y="816" class="t" textLength="49.74" lengthAdjust="spacingAndGlyphs">2 Feb 04:00</text>
<rect x="517" y="804" width="1" height="3" fill="#000" shape-rendering="crispEdges"/>
<text x="516" y="816" class="t" textLength="49.74" lengthAdjust="spacingAndGlyphs">2 Feb 20:00</text>
<rect x="581" y="804" width="1" height="3" fill="#000" shape-rendering="crispEdges"/>
<text x="580" y="816" class="t" textLength="49.74" lengthAdjust="spacingAndGlyphs">3 Feb 12:00</text>
<rect x="645" y="804" width="1" height="3" fill="#000" shape-rendering="crispEdges"/>
<text x="644" y="816" class="t" textLength="49.74" lengthAdjust="spacingAndGlyphs">6 Feb 00:00</text>
<rect x="709" y="804" width="1" height="3" fill="#000" shape-rendering="crispEdges"/>
<text x="708" y="816" class="t" textLength="49.74" lengthAdjust="spacingAndGlyphs">6 Feb 16:00</text>
<rect x="773" y="804" width="1" height="3" fill="#000" shape-rendering="crispEdges"/>
<text x="772" y="816" class="t" textLength="49.74" lengthAdjust="spacingAndGlyphs">7 Feb 08:00</text>
<rect x="837" y="804" width="1" height="3" fill="#000" shape-rendering="crispEdges"/>
<text x="836" y="816" class="t" textLength="49.74" lengthAdjust="spacingAndGlyphs">8 Feb 00:00</text>
<rect x="901" y="804" width="1" height="3" fill="#000" shape-rendering="crispEdges"/>
<text x="900" y="816" class="t" textLength="49.74" lengthAdjust="spacingAndGlyphs">8 Feb 16:00</text>
<rect x="965" y="804" width="1" height="3" fill="#000" shape-rendering="crispEdges"/>
<text x="964" y="816" class="t" textLength="49.74" lengthAdjust="spacingAndGlyphs">9 Feb 08:00</text>
<rect x="1029" y="804" width="1" height="3" fill="#000" shape-rendering="crispEdges"/>
<text x="1028" y="816" class="t" textLength="54.93" lengthAdjust="spacingAndGlyphs">10 Feb 00:00</text>
<rect x="1093" y="804" width="1" height="3" fill="#000" shape-rendering="crispEdges"/>
<text x="1092" y="816" class="t" textLength="54.93" lengthAdjust="spacingAndGlyphs">10 Feb 16:00</text>
<rect x="1157" y="804" width="1" height="3" fill="#000" shape-rendering="crispEdges"/>
<text x="1156" y="816" class="t" textLength="54.93" lengthAdjust="spacingAndGlyphs">13 Feb 04:00</text>
<rect x="1221" y="804" width="1" height="3" fill="#000" shape-rendering="crispEdges"/>
<text x="1220" y="816" class="t" textLength="54.93" lengthAdjust="spacingAndGlyphs">13 Feb 20:00</text>
<rect x="1285" y="804" width="1" height="3" fill="#000" shape-rendering="crispEdges"/>
<text x="1284" y="816" class="t" textLength="54.93" lengthAdjust="spacingAndGlyphs">14 Feb 12:00</text>
</svg>
</body></html>
